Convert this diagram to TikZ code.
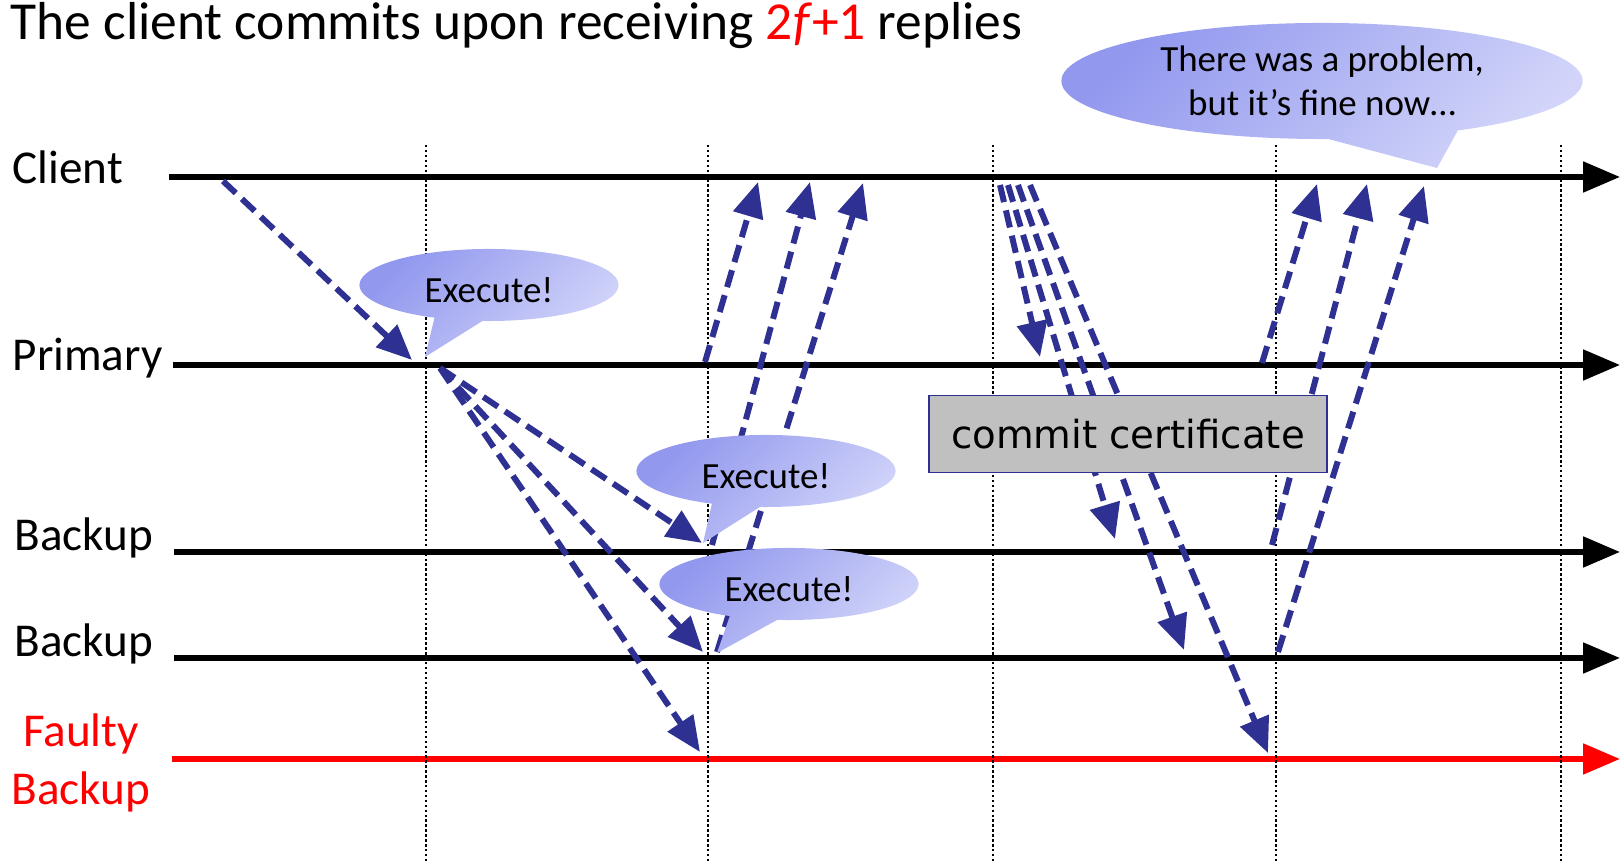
\documentclass[tikz,border=0pt]{standalone}
\usepackage{fontspec}
\setmainfont{Carlito}
\newfontfamily\certfont{DejaVu Sans}
\usetikzlibrary{arrows.meta, math, shapes.callouts}
\definecolor{msgblue}{RGB}{46,49,146}
\definecolor{faultred}{RGB}{255,0,0}
\definecolor{bubA}{RGB}{146,152,238}
\definecolor{bubB}{RGB}{210,213,249}
\definecolor{certgray}{RGB}{192,192,192}
\tikzset{
  lane/.style={line width=1.55pt, -{Triangle[length=10.5pt,width=8.5pt]}},
  msg/.style={line width=1.7pt, color=msgblue, dash pattern=on 5pt off 2.4pt,
    -{Triangle[length=10pt,width=8.5pt]}},
  tick/.style={line width=0.7pt, dash pattern=on 0.7pt off 0.7pt},
  lbl/.style={anchor=base west, inner sep=0pt, font=\fontsize{13.4}{16.5}\selectfont},
  bubble/.style={ellipse callout, inner sep=0pt, top color=bubA, bottom color=bubB,
    shading angle=45, minimum width=2.59cm, minimum height=0.72cm,
    callout pointer arc=22, font=\fontsize{10.5}{12.6}\selectfont},
  exec/.style={bubble, text height=10.5pt, text depth=0.5pt}
}

\begin{document}
\begin{tikzpicture}[x=0.01cm, y=-0.01cm]
\useasboundingbox (0,0) rectangle (1624,862);

\node[anchor=base west, inner sep=0pt, font=\fontsize{15.2}{18}\selectfont] (title) at (10,40)
  {The client commits upon receiving \textcolor{faultred}{2\textit{f}+1} replies};

\node[lbl] (lclient) at (12,184) {Client};
\node[lbl] (lprim) at (12,371) {Primary};
\node[lbl] (lback1) at (14,551) {Backup};
\node[lbl] (lback2) at (14,657) {Backup};
\node[align=center, text=faultred, font=\fontsize{13.4}{16.5}\selectfont] (lfault) at (81,763) {Faulty\\Backup};

\coordinate (C) at (169,177);
\coordinate (P) at (173,365);
\coordinate (B1) at (174,552);
\coordinate (B2) at (174,658);
\coordinate (F) at (172,759);

\draw[lane] (C) -- (1620,177);
\draw[lane] (P) -- (1620,365);
\draw[lane] (B1) -- (1620,552);
\draw[lane] (B2) -- (1620,658);
\draw[lane, color=faultred] (F) -- (1620,759);

\foreach \x in {426,708,993,1276,1561}
  \draw[tick] (\x,145) -- (\x,862);

\coordinate (req) at (223,181);
\coordinate (pp) at (440,368);
\draw[msg] (req) -- (412,360);
\draw[msg] (pp) -- (702,543);
\draw[msg] (pp) -- (703,652);
\draw[msg] (pp) -- (700,752);

\draw[msg] (705,362) -- (758,182);
\draw[msg] (712,545) -- (810,182);
\draw[msg] (717,652) -- (863,183);

\draw[msg] (1000,185) -- (1040,357);
\draw[msg] (1008,185) -- (1115,539);
\draw[msg] (1018,185) -- (1184,650);
\draw[msg] (1030,185) -- (1268,753);

\draw[msg] (1262,363) -- (1317,184);
\draw[msg] (1272,545) -- (1367,184);
\draw[msg] (1278,652) -- (1424,186);

\node[exec, callout absolute pointer={(425,357)}] (ex1) at (489,285) {Execute!};
\node[exec, callout absolute pointer={(703,543)}] (ex2) at (766,471) {Execute!};
\node[exec, callout absolute pointer={(717,653)}] (ex3) at (789,584) {Execute!};
\node[bubble, align=center, minimum width=5.21cm, minimum height=1.16cm,
  callout pointer arc=30, callout absolute pointer={(1437,168)}] (fine) at (1322,81)
  {There was a problem,\\but it’s fine now…};

\node[draw=msgblue, line width=0.4pt, fill=certgray, minimum width=3.98cm,
  minimum height=0.775cm, font=\certfont\fontsize{11}{13}\selectfont] (cert) at (1128,434)
  {commit certificate};
\end{tikzpicture}
\end{document}
